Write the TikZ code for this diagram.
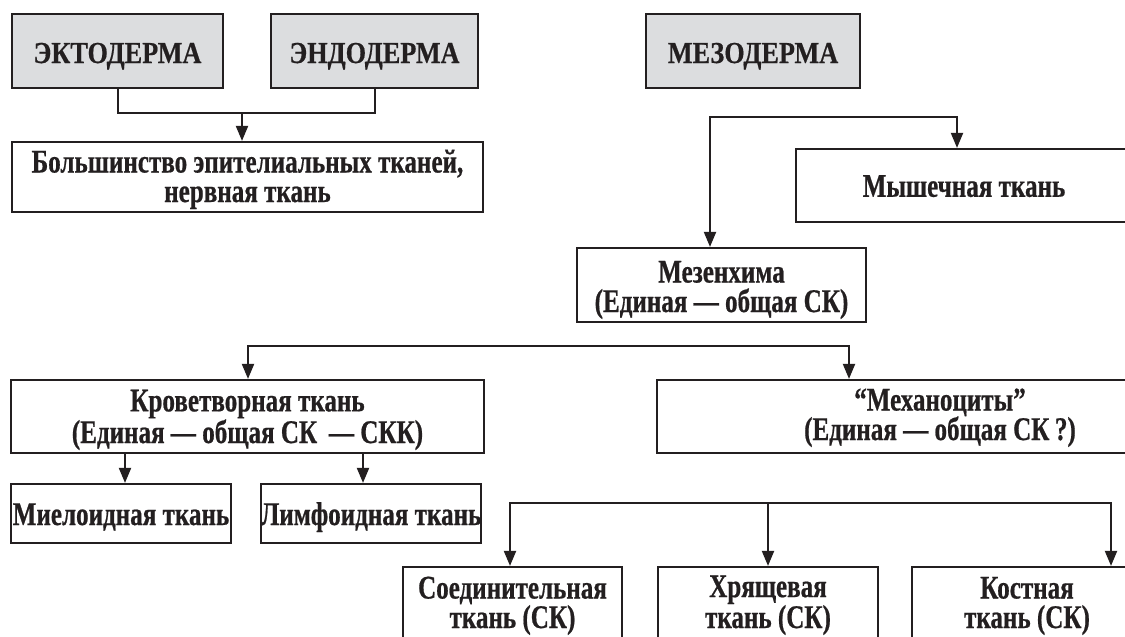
\documentclass[tikz,border=0pt]{standalone}
\usepackage{fontspec}
\setmainfont{Liberation Serif}[FakeStretch=0.76, BoldFeatures={FakeBold=0.6}]
\newfontfamily\hdrfont{Liberation Serif}[FakeStretch=0.86, BoldFeatures={FakeBold=0.5}]
\usetikzlibrary{arrows.meta}
\definecolor{ink}{HTML}{231F20}
\definecolor{hdr}{HTML}{DCDDDF}
\begin{document}
\begin{tikzpicture}[x=1pt,y=-1pt,
  hdrbox/.style={draw=ink, line width=2.8pt, fill=hdr, inner sep=0pt, text=ink,
    minimum height=74pt, text height=24pt, text depth=0pt,
    font=\hdrfont\bfseries\fontsize{30.5}{32}\selectfont},
  tbox/.style={draw=ink, line width=2.2pt, fill=white, inner sep=0pt, align=center, text=ink,
    text depth=6pt, font=\bfseries\fontsize{33}{29.5}\selectfont},
  conn/.style={draw=ink, line width=2pt},
  arr/.style={conn, -{Triangle[length=15pt,width=12pt]}},
  dblarr/.style={conn, {Triangle[length=15pt,width=12pt]}-{Triangle[length=15pt,width=12pt]}}]
\path[use as bounding box] (0,0) rectangle (1125,637);
\clip (0,0) rectangle (1125,637);
\fill[white] (0,0) rectangle (1125,637);

% headers
\node[hdrbox, minimum width=211pt] (ekto) at (117.5,51) {ЭКТОДЕРМА};
\node[hdrbox, minimum width=207pt] (endo) at (374.5,51) {ЭНДОДЕРМА};
\node[hdrbox, minimum width=214pt] (meso) at (753,51) {МЕЗОДЕРМА};

% boxes (multi-line: the reference point is the last line)
\node[tbox, minimum width=471pt, minimum height=70pt, text height=56pt] (bolsh) at (247.5,177)
  {Большинство эпителиальных тканей,\\нервная ткань};
\node[tbox, minimum width=336pt, minimum height=73pt, text height=22.5pt, text depth=0pt] (mysh) at (964,185.5) {Мышечная ткань};
\node[tbox, minimum width=289pt, minimum height=74pt, text height=60pt] (mesen) at (721.5,285)
  {Мезенхима\\(Единая — общая СК)};
\node[tbox, minimum width=473pt, minimum height=73pt, text height=59pt] (krov) at (247.5,416.5)
  {Кроветворная ткань\\(Единая — общая СК \,— СКК)};
\node[tbox, minimum width=566pt, minimum height=73pt, text height=53pt] (mech) at (940,416.5)
  {“Механоциты”\\(Единая — общая СК\,?)};
\node[tbox, minimum width=220pt, minimum height=59pt, text height=23pt, text depth=0pt] (miel) at (121,513.5) {Миелоидная ткань};
\node[tbox, minimum width=220pt, minimum height=59pt, text height=23pt, text depth=0pt] (limf) at (371,513.5) {Лимфоидная ткань};
\node[tbox, minimum width=219pt, minimum height=80pt, text height=48pt] (soed) at (512.5,607) {Соединительная\\ткань (СК)};
\node[tbox, minimum width=220pt, minimum height=80pt, text height=48pt] (hrya) at (768,607) {Хрящевая\\ткань (СК)};
\node[tbox, minimum width=230pt, minimum height=80pt, text height=48pt] (kost) at (1027,607) {Костная\\ткань (СК)};

% connectors
\coordinate (j1) at (242,113);
\draw[conn] (ekto.south) |- (j1) -| (endo.south);
\draw[arr] (j1) -- (j1 |- bolsh.north);

\coordinate (m1) at (710,117);
\coordinate (m2) at (957,117);
\draw[dblarr] (m1 |- mesen.north) -- (m1) -- (m2) -- (m2 |- mysh.north);

\coordinate (k1) at (248,346);
\coordinate (k2) at (849,346);
\draw[dblarr] (k1 |- krov.north) -- (k1) -- (k2) -- (k2 |- mech.north);

\coordinate (a1) at (125,0);
\coordinate (a2) at (363,0);
\draw[arr] (krov.south -| a1) -- (miel.north -| a1);
\draw[arr] (krov.south -| a2) -- (limf.north -| a2);

\coordinate (b1) at (510,503);
\coordinate (b2) at (768,503);
\coordinate (b3) at (1111,503);
\draw[dblarr] (b1 |- soed.north) -- (b1) -- (b3) -- (b3 |- kost.north);
\draw[arr] (b2) -- (b2 |- hrya.north);
\end{tikzpicture}
\end{document}
